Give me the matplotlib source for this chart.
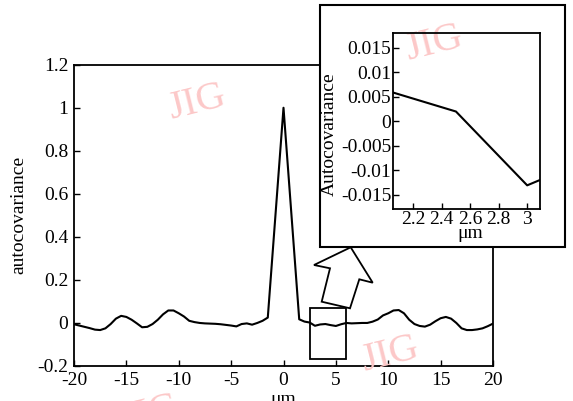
import matplotlib.pyplot as plt
from matplotlib.patches import Rectangle, Polygon
from matplotlib.ticker import FuncFormatter

plt.rcParams['font.family'] = ['Liberation Serif', 'DejaVu Serif']

# lag (um) and autocovariance
lag = [-20, -19.5, -19, -18.5, -18, -17.5, -17, -16.5, -16, -15.5, -15, -14.5,
       -14, -13.5, -13, -12.5, -12, -11.5, -11, -10.5, -10, -9.5, -9, -8.5,
       -8, -7.5, -7, -6.5, -6, -5.5, -5, -4.5, -4, -3.5, -3, -2.5, -2, -1.5,
       0, 1.5, 2, 2.5, 3, 3.5, 4, 4.5, 5, 5.5, 6, 6.5, 7, 7.5, 8, 8.5, 9,
       9.5, 10, 10.5, 11, 11.5, 12, 12.5, 13, 13.5, 14, 14.5, 15, 15.5, 16,
       16.5, 17, 17.5, 18, 18.5, 19, 19.5, 20]
acov = [-0.006, -0.012, -0.018, -0.024, -0.031, -0.033, -0.025, -0.005, 0.02,
        0.033, 0.028, 0.015, -0.002, -0.02, -0.018, -0.005, 0.015, 0.04,
        0.058, 0.058, 0.045, 0.03, 0.01, 0.004, 0.0, -0.002, -0.003, -0.004,
        -0.006, -0.009, -0.012, -0.016, -0.005, -0.002, -0.008, 0.0, 0.01,
        0.025, 1.0, 0.017, 0.0064, 0.002, -0.0131, -0.007, -0.005, -0.01,
        -0.014, -0.006, 0.0, -0.002, -0.001, 0.0, 0.0, 0.006, 0.016, 0.035,
        0.045, 0.058, 0.06, 0.045, 0.015, -0.005, -0.014, -0.017, -0.008,
        0.008, 0.022, 0.028, 0.02, 0.0, -0.025, -0.033, -0.033, -0.03,
        -0.025, -0.015, -0.003]

main_xticks = [-20, -15, -10, -5, 0, 5, 10, 15, 20]
main_yticks = [-0.2, 0, 0.2, 0.4, 0.6, 0.8, 1, 1.2]
inset_xticks = [2.2, 2.4, 2.6, 2.8, 3]
inset_yticks = [-0.015, -0.01, -0.005, 0, 0.005, 0.01, 0.015]

fmt = FuncFormatter(lambda v, p: '%g' % v)


def px(x, y):
    return (x / 573.0, 1 - y / 401.0)


fig = plt.figure(figsize=(5.73, 4.01), dpi=100)

# main axes
ax = fig.add_axes([74 / 573, 35 / 401, 419 / 573, 301.3 / 401])
ax.plot(lag, acov, color='black', lw=1.5)
ax.set_xlim(-20, 20)
ax.set_ylim(-0.2, 1.2)
ax.set_xticks(main_xticks)
ax.set_yticks(main_yticks)
ax.xaxis.set_major_formatter(fmt)
ax.yaxis.set_major_formatter(fmt)
ax.tick_params(direction='in', length=4, width=1, labelsize=14, pad=4,
               top=False, right=False)
for s in ax.spines.values():
    s.set_linewidth(1.3)
ax.set_ylabel('autocovariance', fontsize=14, va='center')
ax.yaxis.set_label_coords(-0.131, 0.5)
ax.set_xlabel('μm', fontsize=14, va='baseline')
ax.xaxis.set_label_coords(0.5, -0.126)

# zoom box on main axes
ax.add_patch(Rectangle((2.53, -0.169), 3.41, 0.237, fill=False,
                       edgecolor='black', lw=1.3, zorder=3))

# frame around inset
x0, y0 = px(320, 246.7)
fig.add_artist(Rectangle((x0, y0), 245 / 573, 242 / 401,
                         transform=fig.transFigure, facecolor='white',
                         edgecolor='black', lw=1.5, zorder=1))

# arrow from box to inset
arrow_pts = [px(350.7, 247.3), px(372.7, 282.7), px(359.3, 279.3),
             px(350, 308.3), px(321.7, 301.7), px(330, 268.3), px(314, 265)]
fig.add_artist(Polygon(arrow_pts, closed=True, transform=fig.transFigure,
                       facecolor='white', edgecolor='black', lw=1.3, zorder=3))

# inset axes
ax_in = fig.add_axes([393.3 / 573, (401 - 209.3) / 401, 146.7 / 573, 176 / 401])
ax_in.set_zorder(2)
ax_in.patch.set_alpha(0)
ax_in.plot(lag, acov, color='black', lw=1.5)
ax_in.set_xlim(2.06, 3.09)
ax_in.set_ylim(-0.018, 0.018)
ax_in.set_xticks(inset_xticks)
ax_in.set_yticks(inset_yticks)
ax_in.xaxis.set_major_formatter(fmt)
ax_in.yaxis.set_major_formatter(fmt)
ax_in.tick_params(direction='in', length=4, width=1, labelsize=14, pad=1.5,
                  top=False, right=False)
for s in ax_in.spines.values():
    s.set_linewidth(1.3)
ax_in.set_ylabel('Autocovariance', fontsize=14, va='center')
ax_in.yaxis.set_label_coords(-0.438, 0.428)
ax_in.set_xlabel('μm', fontsize=14, va='baseline')
ax_in.xaxis.set_label_coords(0.522, -0.163)

# watermarks
wm = dict(color='#fcc8c8', fontsize=29, rotation=14, ha='center', va='center',
          zorder=1.5, transform=fig.transFigure)
fig.text(*px(197, 103), 'JIG', **wm)
fig.text(*px(434, 44), 'JIG', **wm)
fig.text(*px(390, 355), 'JIG', **wm)
fig.text(*px(150, 414), 'JIG', **wm)

fig.savefig('out.png', dpi=100)
